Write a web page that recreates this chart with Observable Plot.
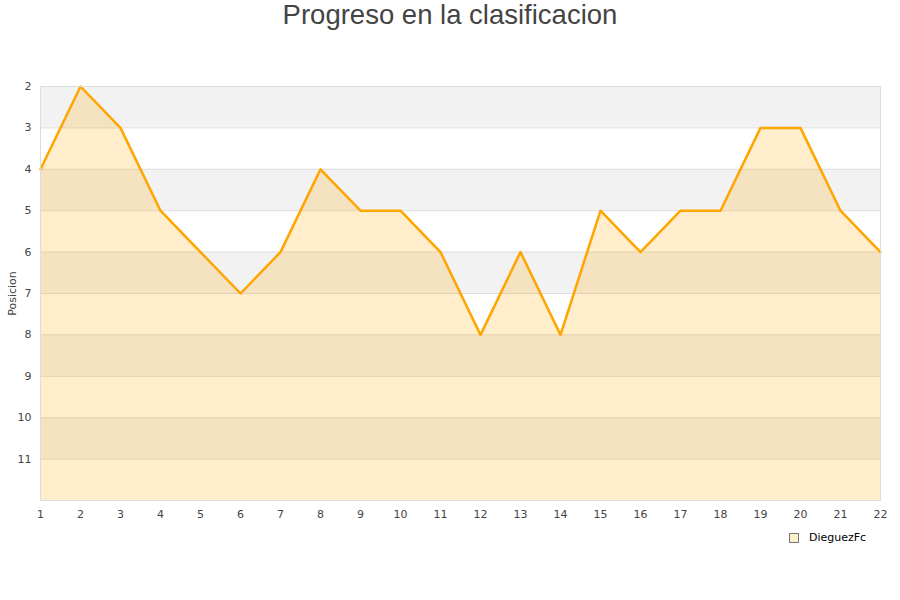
<!DOCTYPE html>
<html>
<head>
<meta charset="utf-8">
<script src="https://cdn.jsdelivr.net/npm/d3@7"></script>
<script src="https://cdn.jsdelivr.net/npm/@observablehq/plot@0.6"></script>
<style>
  html, body { margin: 0; padding: 0; background: #fff; }
  #wrap { position: relative; width: 900px; height: 600px; }
  #title { position: absolute; left: 0; top: -1px; width: 900px; text-align: center;
    font-family: "Liberation Sans", Arial, sans-serif; font-size: 27.5px; color: #444; line-height: 32px; }
  #legend { position: absolute; left: 789px; top: 531px; font-family: "DejaVu Sans", sans-serif;
    font-size: 11px; color: #000; display: flex; align-items: center; }
  #legend .sw { width: 8px; height: 8px; background: #ffeecc; border: 1px solid #777; margin-right: 10px; }
  #chart { position: absolute; left: 0; top: 0; }
</style>
</head>
<body>
<div id="wrap">
  <div id="chart"></div>
  <div id="title">Progreso en la clasificacion</div>
  <div id="legend"><div class="sw"></div><span>DieguezFc</span></div>
</div>
<script>
const jornadas = [1,2,3,4,5,6,7,8,9,10,11,12,13,14,15,16,17,18,19,20,21,22];
const posiciones = [4,2,3,5,6,7,6,4,5,5,6,8,6,8,5,6,5,5,3,3,5,6];
const yTicks = [2,3,4,5,6,7,8,9,10,11];
const gridLines = [2,3,4,5,6,7,8,9,10,11,12];
const bandStarts = [2,4,6,8,10];
const seriesName = "DieguezFc";

const data = jornadas.map((j, i) => ({jornada: j, pos: posiciones[i]}));

const chart = Plot.plot({
  width: 900,
  height: 600,
  marginTop: 86,
  marginRight: 20,
  marginBottom: 100,
  marginLeft: 40,
  style: {fontFamily: "'DejaVu Sans', sans-serif", fontSize: "11px", color: "#444", background: "transparent"},
  x: {domain: [1, 22], ticks: jornadas, tickSize: 0, tickPadding: 10, tickFormat: d => String(d), label: null},
  y: {domain: [2, 12], reverse: true, ticks: yTicks, tickSize: 0, tickPadding: 9, label: "Posicion",
      labelAnchor: "center", labelArrow: "none", labelOffset: 32},
  marks: [
    Plot.rect(bandStarts, {x1: 1, x2: 22, y1: d => d, y2: d => d + 1, fill: "#f2f2f2"}),
    Plot.ruleY(gridLines, {stroke: "#dddddd", strokeWidth: 1}),
    Plot.areaY(data, {x: "jornada", y1: 12, y2: "pos", fill: "#ffa500", fillOpacity: 0.2}),
    Plot.lineY(data, {x: "jornada", y: "pos", stroke: "#ffa500", strokeWidth: 2.5}),
    Plot.frame({stroke: "#dddddd"})
  ]
});
document.getElementById("chart").appendChild(chart);
</script>
</body>
</html>
